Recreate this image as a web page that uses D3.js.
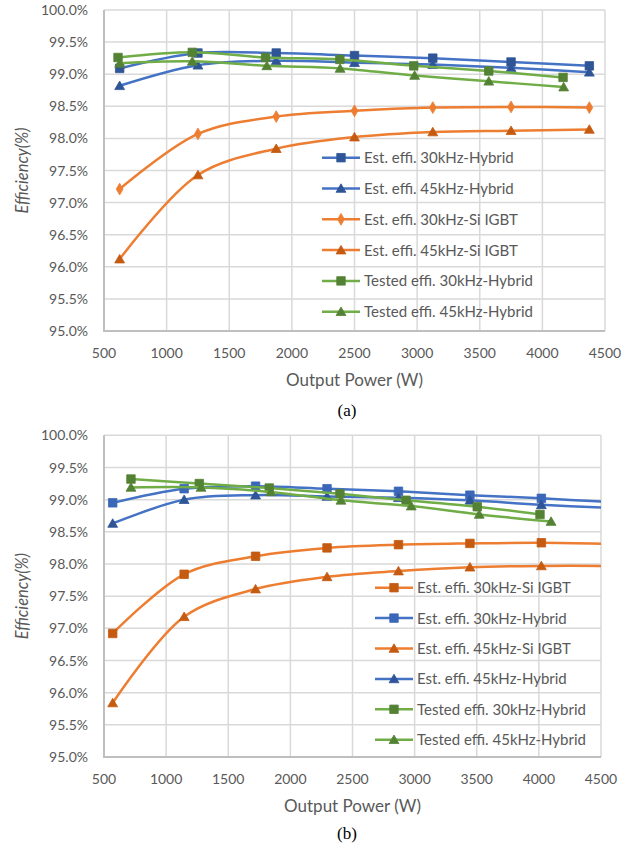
<!DOCTYPE html>
<html><head><meta charset="utf-8">
<script src="https://cdn.jsdelivr.net/npm/d3@7"></script>
<style>
html,body{margin:0;padding:0;background:#fff;}
svg{display:block;font-family:Lato,"Open Sans",sans-serif;}
</style></head>
<body><svg id="c" width="638" height="849"></svg>
<script>
// ---------- data ----------
const xTicks = [500,1000,1500,2000,2500,3000,3500,4000,4500];
const yTicks = [95,95.5,96,96.5,97,97.5,98,98.5,99,99.5,100];

// chart (a)
const aEstX      = [625,1250,1875,2500,3125,3750,4375];
const aEst30Hyb  = [99.09,99.33,99.33,99.29,99.25,99.19,99.13];
const aEst45Hyb  = [98.82,99.14,99.21,99.18,99.15,99.10,99.03];
const aEst30Si   = [97.21,98.07,98.34,98.43,98.48,98.49,98.48];
const aEst45Si   = [96.12,97.43,97.84,98.02,98.10,98.12,98.14];
const aTest30X   = [612,1205,1790,2383,2973,3572,4165];
const aTest30Hyb = [99.26,99.34,99.26,99.23,99.13,99.05,98.95];
const aTest45X   = [625,1205,1800,2385,2980,3572,4170];
const aTest45Hyb = [99.17,99.20,99.13,99.09,98.98,98.89,98.80];
const aNames = ["Est. effi. 30kHz-Hybrid","Est. effi. 45kHz-Hybrid","Est. effi. 30kHz-Si IGBT",
                "Est. effi. 45kHz-Si IGBT","Tested effi. 30kHz-Hybrid","Tested effi. 45kHz-Hybrid"];

// chart (b)
const bEstX      = [570,1145,1720,2295,2870,3445,4020,4595];
const bEst30Si   = [96.92,97.84,98.12,98.25,98.30,98.32,98.33,98.31];
const bEst30Hyb  = [98.95,99.17,99.21,99.17,99.13,99.07,99.02,98.96];
const bEst45Si   = [95.84,97.18,97.61,97.80,97.89,97.95,97.97,97.97];
const bEst45Hyb  = [98.63,99.00,99.07,99.05,99.03,98.99,98.92,98.87];
const bTest30X   = [717,1267,1830,2399,2931,3504,4009];
const bTest30Hyb = [99.32,99.25,99.18,99.09,98.99,98.89,98.77];
const bTest45X   = [717,1281,1842,2407,2973,3520,4098];
const bTest45Hyb = [99.19,99.19,99.12,98.99,98.90,98.77,98.66];
const bNames = ["Est. effi. 30kHz-Si IGBT","Est. effi. 30kHz-Hybrid","Est. effi. 45kHz-Si IGBT",
                "Est. effi. 45kHz-Hybrid","Tested effi. 30kHz-Hybrid","Tested effi. 45kHz-Hybrid"];

// ---------- styles ----------
const BLUE="#4472C4", BLUE_D="#2F5597", ORANGE="#ED7D31", ORANGE_D="#C55A11", GREEN="#70AD47", GREEN_D="#548235";
const TXT="#595959";

function mk(name, xs, ys, line, fill, sym){ return {name, pts: xs.map((x,i)=>({x, y: ys[i]})), line, fill, sym}; }

const seriesA = [
  mk(aNames[0], aEstX, aEst30Hyb, BLUE, BLUE_D, "square"),
  mk(aNames[1], aEstX, aEst45Hyb, BLUE, BLUE_D, "triangle"),
  mk(aNames[2], aEstX, aEst30Si, ORANGE, ORANGE, "diamond"),
  mk(aNames[3], aEstX, aEst45Si, ORANGE, ORANGE_D, "triangle"),
  mk(aNames[4], aTest30X, aTest30Hyb, GREEN, GREEN_D, "square"),
  mk(aNames[5], aTest45X, aTest45Hyb, GREEN, GREEN_D, "triangle")
];
const seriesB = [
  mk(bNames[0], bEstX, bEst30Si, ORANGE, ORANGE_D, "square"),
  mk(bNames[1], bEstX, bEst30Hyb, BLUE, "#3A67B8", "square"),
  mk(bNames[2], bEstX, bEst45Si, ORANGE, ORANGE_D, "triangle"),
  mk(bNames[3], bEstX, bEst45Hyb, BLUE, BLUE_D, "triangle"),
  mk(bNames[4], bTest30X, bTest30Hyb, GREEN, GREEN_D, "square"),
  mk(bNames[5], bTest45X, bTest45Hyb, GREEN, GREEN_D, "triangle")
];

const svg = d3.select("#c");
const symMap = {square: [d3.symbolSquare, 72], triangle: [d3.symbolTriangle, 42], diamond: [d3.symbolDiamond, 40]};

function drawChart(cfg, series, id){
  const x = d3.scaleLinear().domain([500,4500]).range([cfg.left, cfg.right]);
  const y = d3.scaleLinear().domain([95,100]).range([cfg.bottom, cfg.top]);
  const g = svg.append("g");

  g.append("clipPath").attr("id","clip"+id).append("rect")
    .attr("x",cfg.left).attr("y",cfg.top-8).attr("width",cfg.right-cfg.left).attr("height",cfg.bottom-cfg.top+16);

  // gridlines
  g.append("g").selectAll("line.h").data(yTicks.slice(1)).join("line")
    .attr("x1",cfg.left).attr("x2",cfg.right).attr("y1",d=>y(d)).attr("y2",d=>y(d))
    .attr("stroke","#D9D9D9").attr("stroke-width",1.5);
  g.append("g").selectAll("line.v").data(xTicks.slice(1)).join("line")
    .attr("x1",d=>x(d)).attr("x2",d=>x(d)).attr("y1",cfg.top).attr("y2",cfg.bottom)
    .attr("stroke","#D9D9D9").attr("stroke-width",1.5);
  // axes lines
  g.append("line").attr("x1",cfg.left).attr("x2",cfg.left).attr("y1",cfg.top).attr("y2",cfg.bottom+1)
    .attr("stroke","#BFBFBF").attr("stroke-width",2);
  g.append("line").attr("x1",cfg.left-1).attr("x2",cfg.right).attr("y1",cfg.bottom).attr("y2",cfg.bottom)
    .attr("stroke","#BFBFBF").attr("stroke-width",2);

  // tick labels
  g.append("g").selectAll("text").data(yTicks).join("text")
    .attr("x",cfg.left-16).attr("y",d=>y(d)).attr("dy","0.36em")
    .attr("text-anchor","end").attr("fill",TXT).attr("font-size",14)
    .text(d=>d3.format(".1f")(d)+"%");
  g.append("g").selectAll("text").data(xTicks).join("text")
    .attr("x",d=>x(d)).attr("y",cfg.bottom+22).attr("dy","0.36em")
    .attr("text-anchor","middle").attr("fill",TXT).attr("font-size",14)
    .text(d=>d);

  // titles
  g.append("text").attr("x",(cfg.left+cfg.right)/2).attr("y",cfg.bottom+49).attr("dy","0.36em")
    .attr("text-anchor","middle").attr("fill",TXT).attr("font-size",17).text("Output Power (W)");
  g.append("text").attr("transform",`translate(22,${(cfg.top+cfg.bottom)/2}) rotate(-90)`).attr("dy","0.36em")
    .attr("text-anchor","middle").attr("fill",TXT).attr("font-size",16.5).attr("font-style","italic").text("Efficiency(%)");
  g.append("text").attr("x",347).attr("y",cfg.capY).attr("dy","0.36em")
    .attr("text-anchor","middle").attr("fill","#000").attr("font-size",17)
    .attr("font-family","'Liberation Serif','Times New Roman',serif").text(cfg.cap);

  // series
  const line = d3.line().x(d=>x(d.x)).y(d=>y(d.y)).curve(d3.curveCatmullRom.alpha(0.5));
  const plot = g.append("g").attr("clip-path",`url(#clip${id})`);
  series.forEach(s=>{
    plot.append("path").attr("d",line(s.pts)).attr("fill","none").attr("stroke",s.line)
      .attr("stroke-width",2.5).attr("stroke-linejoin","round").attr("stroke-linecap","round");
    const [st, sz] = symMap[s.sym];
    plot.selectAll(null).data(s.pts.filter(p=>p.x<=4500)).join("path")
      .attr("d",d3.symbol(st, sz)).attr("transform",d=>`translate(${x(d.x)},${y(d.y)+(s.sym==="triangle"?1:0)})`)
      .attr("fill",s.fill).attr("stroke",s.fill).attr("stroke-width",0.8);
  });

  // legend
  const lg = g.append("g");
  series.forEach((s,i)=>{
    const yy = cfg.legY + i*cfg.legStep;
    lg.append("line").attr("x1",cfg.legX).attr("x2",cfg.legX+38).attr("y1",yy).attr("y2",yy)
      .attr("stroke",s.line).attr("stroke-width",2.5);
    const [st, sz] = symMap[s.sym];
    lg.append("path").attr("d",d3.symbol(st, sz)).attr("transform",`translate(${cfg.legX+19},${yy+(s.sym==="triangle"?1:0)})`)
      .attr("fill",s.fill).attr("stroke",s.fill).attr("stroke-width",0.8);
    lg.append("text").attr("x",cfg.legX+42).attr("y",yy).attr("dy","0.36em")
      .attr("fill",TXT).attr("font-size",15).text(s.name);
  });
}

drawChart({left:104, right:605, top:10, bottom:331, capY:410, cap:"(a)", legX:322, legY:157.7, legStep:30.8}, seriesA, "a");
drawChart({left:104, right:601, top:435.3, bottom:757, capY:833, cap:"(b)", legX:375, legY:587.7, legStep:30.4}, seriesB, "b");
</script></body></html>
